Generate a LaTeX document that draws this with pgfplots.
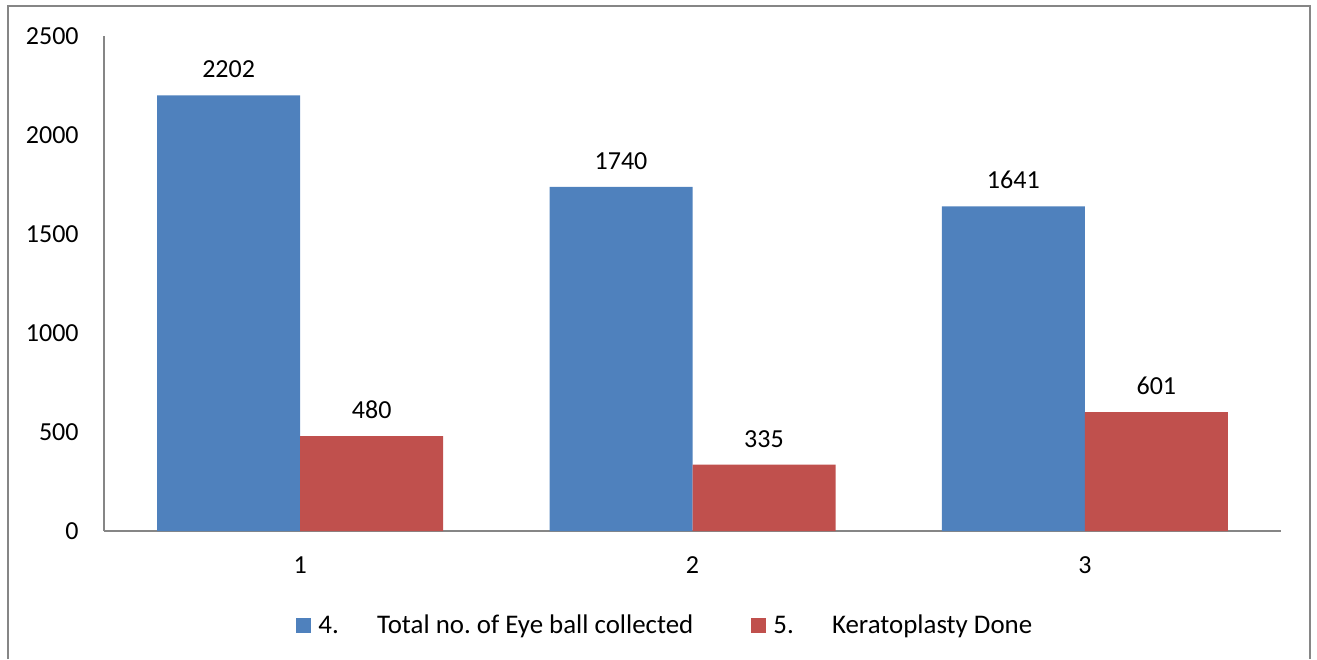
\documentclass[border=0pt]{standalone}
\usepackage{fontspec}
\setmainfont{Carlito}
\usepackage{pgfplots}
\pgfplotsset{compat=1.18}
\definecolor{cblue}{HTML}{4F81BD}
\definecolor{cred}{HTML}{C0504D}
\definecolor{axgray}{HTML}{868686}
\begin{document}
\begin{tikzpicture}[x=0.5pt,y=0.5pt]
\useasboundingbox (0,0) rectangle (1317,659);
\draw[axgray, line width=1pt] (7.5,0) -- (7.5,652.5) -- (1310,652.5) -- (1310,0);
\begin{axis}[
  at={(52pt,64pt)}, anchor=south west,
  scale only axis, width=588.5pt, height=247.25pt,
  xmin=0.5, xmax=3.5, ymin=0, ymax=2500,
  enlargelimits=false,
  axis x line=bottom, axis y line=left,
  axis line style={-, axgray, line width=1pt},
  major tick length=0pt,
  xtick={1,2,3}, ytick={0,500,...,2500},
  /pgf/number format/assume math mode=true,
  /pgf/number format/1000 sep={},
  tick label style={font=\fontsize{13}{15.6}\selectfont, text=black},
  yticklabel style={inner sep=0pt, xshift=-12.5pt},
  xticklabel style={inner sep=0pt, yshift=-12.5pt},
  ybar=0pt, bar width=71.5pt,
  nodes near coords,
  every node near coord/.append style={font=\fontsize{13}{15.6}\selectfont, text=black, inner sep=0pt, anchor=south, yshift=8.5pt},
  legend columns=2,
  legend style={draw=none, fill=none, at={(0.4778,-0.192)}, anchor=center,
    font=\fontsize{13.45}{16}\selectfont,
    /tikz/every even column/.append style={column sep=27pt}},
  legend cell align=left,
  legend image code/.code={\fill[#1] (0pt,-3.75pt) rectangle (7.5pt,3.75pt);},
]
\addplot[fill=cblue, draw=none] coordinates {(1,2202) (2,1740) (3,1641)};
\addplot[fill=cred, draw=none] coordinates {(1,480) (2,335) (3,601)};
\legend{\hspace{1.5pt}\makebox[29.3pt][l]{4.}Total no.\ of Eye ball collected, \hspace{1.5pt}\makebox[29.3pt][l]{5.}Keratoplasty Done}
\end{axis}
\end{tikzpicture}
\end{document}
